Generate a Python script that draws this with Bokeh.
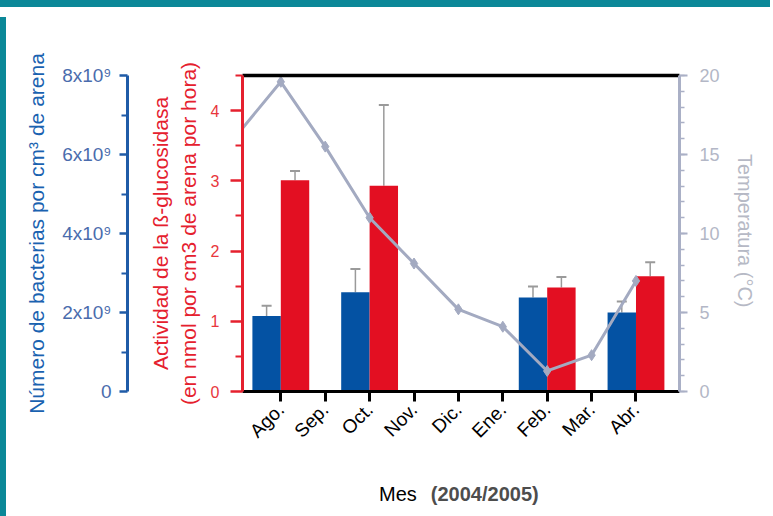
from math import pi
from bokeh.plotting import figure
from bokeh.models import (Range1d, LinearAxis, FixedTicker, Whisker, TeeHead,
                          ColumnDataSource, Div)
from bokeh.layouts import column, row
from bokeh.embed import file_html
from bokeh.resources import INLINE

# ---------------- data ----------------
months = ["Ago.", "Sep.", "Oct.", "Nov.", "Dic.", "Ene.", "Feb.", "Mar.", "Abr."]
bar_months = ["Ago.", "Oct.", "Feb.", "Abr."]
bacteria = [1.91, 2.51, 2.38, 2.00]          # x10^9 bacterias por cm3
bacteria_err = [0.26, 0.59, 0.28, 0.28]
activity = [3.01, 2.93, 1.48, 1.64]          # nmol por cm3 por hora
activity_err = [0.13, 1.15, 0.15, 0.20]
temp_months = ["Jul."] + months
temperature = [16.2, 19.6, 15.5, 11.0, 8.1, 5.2, 4.1, 1.3, 2.3, 7.0]

bact_ticks = [0, 2, 4, 6, 8]
bact_tick_labels = ["0", "2x10\u2079", "4x10\u2079", "6x10\u2079", "8x10\u2079"]
act_ticks = [0, 1, 2, 3, 4]
temp_ticks = [0, 5, 10, 15, 20]

# ---------------- style ----------------
FONT = "Liberation Sans"
BLUE = "#0452a3"
RED = "#e30f22"
RED_AX = "#e5202e"
BLUE_AX = "#1f5ba7"
GREY_LINE = "#a3aac1"
GREY_AX = "#aab0c6"
ERR = "#9a9a9a"
TEAL = "#0b8898"

month_pos = {m: i for i, m in enumerate(months)}
month_pos["Jul."] = -1
bar_x = [month_pos[m] for m in bar_months]
bw = 0.64

p = figure(width=764, height=466, output_backend="svg", toolbar_location=None,
           x_range=Range1d(-0.863, 8.98), y_range=Range1d(0, 4.5),
           min_border_left=231, min_border_right=96, min_border_top=63, min_border_bottom=87,
           background_fill_color="white", border_fill_color="white", outline_line_color=None)
p.grid.visible = False
p.extra_y_ranges = {"bact": Range1d(0, 8), "temp": Range1d(0, 20)}

xa = p.below[0]
ya = p.left[0]

# red (activity) axis = default left axis
ya.ticker = FixedTicker(ticks=act_ticks, minor_ticks=[0.5, 1.5, 2.5, 3.5, 4.5])
ya.axis_line_color = RED_AX
ya.axis_line_width = 3
ya.major_tick_line_color = RED_AX
ya.major_tick_line_width = 2.5
ya.major_tick_out = 12
ya.major_tick_in = 0
ya.minor_tick_line_color = RED_AX
ya.minor_tick_line_width = 2
ya.minor_tick_out = 7
ya.minor_tick_in = 0
ya.major_label_text_color = "#e8363c"
ya.major_label_text_font = FONT
ya.major_label_text_font_size = "16px"
ya.major_label_standoff = 11
ya.axis_label = "Actividad de la \u00df-glucosidasa\n(en nmol por cm3 de arena por hora)"
ya.axis_label_text_color = RED_AX
ya.axis_label_text_font = FONT
ya.axis_label_text_font_size = "21px"
ya.axis_label_text_font_style = "normal"
ya.axis_label_standoff = 8

# spacer between the red and blue axes (white, invisible tick)
spacer = LinearAxis(ticker=FixedTicker(ticks=[0], minor_ticks=[]), axis_line_color=None,
                    major_tick_out=19, major_tick_in=0, major_tick_line_color="white",
                    major_tick_line_width=1,
                    minor_tick_out=0, minor_tick_in=0, minor_tick_line_color=None,
                    major_label_text_color=None, major_label_standoff=0)
p.add_layout(spacer, "left")

# blue (bacteria) axis
ba = LinearAxis(y_range_name="bact",
                ticker=FixedTicker(ticks=bact_ticks, minor_ticks=[1, 3, 5, 7]),
                major_label_overrides=dict(zip(bact_ticks, bact_tick_labels)))
ba.axis_line_color = BLUE_AX
ba.axis_line_width = 3
ba.major_tick_line_color = BLUE_AX
ba.major_tick_line_width = 2.5
ba.major_tick_out = 8
ba.major_tick_in = 0
ba.minor_tick_line_color = BLUE_AX
ba.minor_tick_line_width = 2
ba.minor_tick_out = 6
ba.minor_tick_in = 0
ba.major_label_text_color = "#4a6cad"
ba.major_label_text_font = FONT
ba.major_label_text_font_size = "19px"
ba.major_label_standoff = 8
ba.axis_label = "N\u00famero de bacterias por cm\u00b3 de arena"
ba.axis_label_text_color = "#1a62b0"
ba.axis_label_text_font = FONT
ba.axis_label_text_font_size = "21px"
ba.axis_label_text_font_style = "normal"
ba.axis_label_standoff = 11
p.add_layout(ba, "left")

# temperature axis
ta = LinearAxis(y_range_name="temp",
                ticker=FixedTicker(ticks=temp_ticks, minor_ticks=list(range(0, 21))))
ta.axis_line_color = GREY_AX
ta.axis_line_width = 3
ta.major_tick_line_color = GREY_AX
ta.major_tick_line_width = 2
ta.major_tick_out = 8
ta.major_tick_in = 0
ta.minor_tick_line_color = GREY_AX
ta.minor_tick_line_width = 1.5
ta.minor_tick_out = 5
ta.minor_tick_in = 0
ta.major_label_text_color = "#b3b7c6"
ta.major_label_text_font = FONT
ta.major_label_text_font_size = "18px"
ta.major_label_standoff = 12
ta.axis_label = "Temperatura  (\u00b0C)"
ta.axis_label_text_color = "#b6b9c5"
ta.axis_label_text_font = FONT
ta.axis_label_text_font_size = "20px"
ta.axis_label_text_font_style = "normal"
ta.axis_label_standoff = 11
p.add_layout(ta, "right")

# top black frame line
top = LinearAxis(ticker=FixedTicker(ticks=[]), axis_line_color="black", axis_line_width=3.5,
                 major_tick_out=0, major_tick_in=0, minor_tick_out=0, minor_tick_in=0,
                 major_label_text_color=None, major_label_standoff=0)
p.add_layout(top, "above")

# x axis
xa.ticker = FixedTicker(ticks=list(range(len(months))), minor_ticks=[])
xa.major_label_overrides = {i: m for i, m in enumerate(months)}
xa.major_label_orientation = pi / 4
xa.axis_line_color = "black"
xa.axis_line_width = 3
xa.major_tick_line_color = "black"
xa.major_tick_line_width = 3
xa.major_tick_out = 10
xa.major_tick_in = 0
xa.minor_tick_line_color = None
xa.major_label_text_font = FONT
xa.major_label_text_font_size = "19px"
xa.major_label_text_color = "black"
xa.major_label_standoff = 5

# bars
bsrc = ColumnDataSource(dict(
    xb=[x - bw / 2 for x in bar_x], xr=[x + bw / 2 for x in bar_x],
    bact=bacteria, bact_hi=[v + e for v, e in zip(bacteria, bacteria_err)],
    act=activity, act_hi=[v + e for v, e in zip(activity, activity_err)],
))
p.vbar(x="xb", top="bact", bottom=0, width=bw, source=bsrc, y_range_name="bact",
       fill_color=BLUE, line_color=None)
p.vbar(x="xr", top="act", bottom=0, width=bw, source=bsrc,
       fill_color=RED, line_color=None)

p.add_layout(Whisker(source=bsrc, base="xb", lower="bact", upper="bact_hi", y_range_name="bact",
                     line_color=ERR, line_width=1.5, lower_head=None,
                     upper_head=TeeHead(size=10, line_color=ERR, line_width=2)))
p.add_layout(Whisker(source=bsrc, base="xr", lower="act", upper="act_hi",
                     line_color=ERR, line_width=1.5, lower_head=None,
                     upper_head=TeeHead(size=10, line_color=ERR, line_width=2)))

# temperature line
tx = [month_pos[m] for m in temp_months]
p.line(tx, temperature, y_range_name="temp", line_color=GREY_LINE, line_width=3)
p.scatter(tx[1:], temperature[1:], y_range_name="temp", marker="diamond", size=11,
          fill_color=GREY_LINE, line_color=GREY_LINE)

# x title (two colours) below the figure
xtitle = Div(width=764, height=40, text=(
    "<div style=\"padding-left:363px; padding-top:0px; font-family:'Liberation Sans';"
    " font-size:20px; line-height:22px; color:black; white-space:nowrap\">Mes"
    "<span style=\"margin-left:14px; font-size:20px; font-weight:bold; color:#4d4d4d\">"
    "(2004/2005)</span></div>"))

# teal page border
top_band = Div(text="", width=773, height=10, styles={"background-color": TEAL})
left_band = Div(text="", width=9, height=506, styles={"background-color": TEAL})

layout = column(top_band, row(left_band, column(p, xtitle, spacing=0), spacing=0), spacing=0,
                styles={"margin-top": "-8px", "margin-left": "-8px"})

open("out.html", "w").write(file_html(layout, INLINE))
